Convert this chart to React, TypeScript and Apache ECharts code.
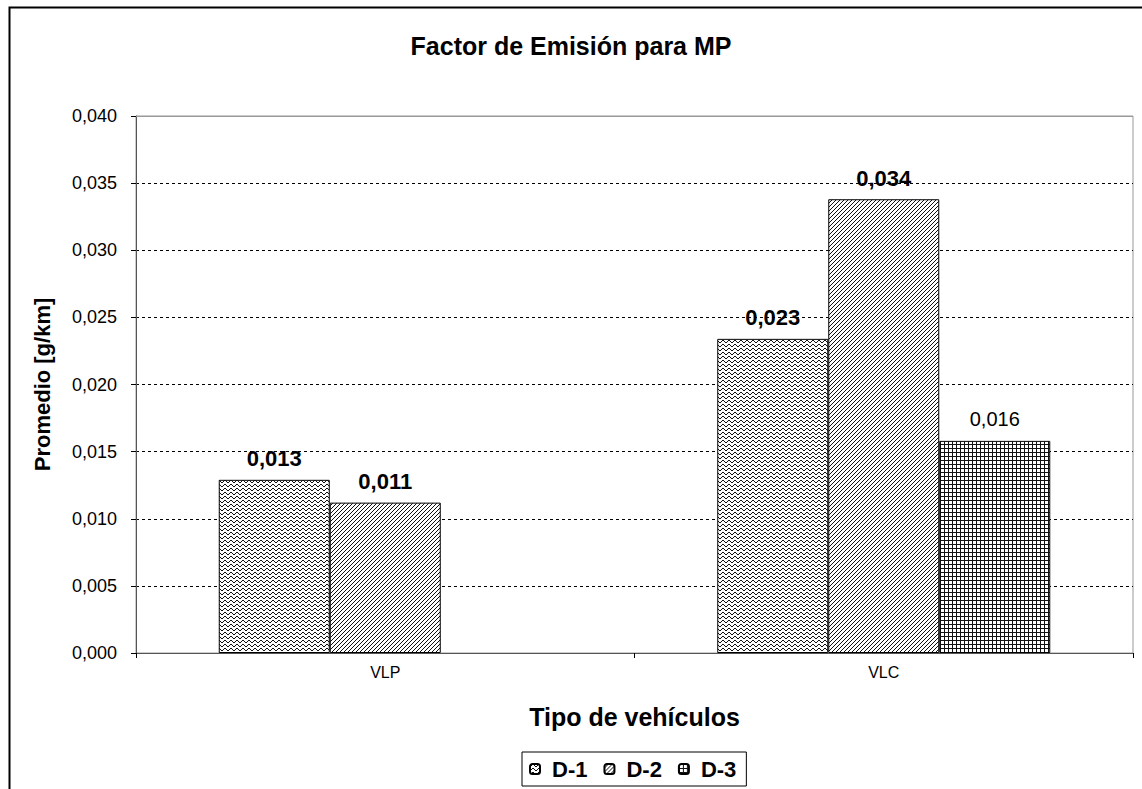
import React, { useEffect, useRef } from "react";
import * as echarts from "echarts";

const categories = ["VLP", "VLC"];
const seriesNames = ["D-1", "D-2", "D-3"];
const d1Values = [0.0129, 0.0234];
const d2Values = [0.0112, 0.0338];
const d3Values: (number | null)[] = [null, 0.0158];

const FONT = "'Liberation Sans', Arial, sans-serif";

function makePattern(w: number, h: number, pixels: (ctx: CanvasRenderingContext2D) => void) {
  const c = document.createElement("canvas");
  c.width = w;
  c.height = h;
  const ctx = c.getContext("2d")!;
  ctx.fillStyle = "#fff";
  ctx.fillRect(0, 0, w, h);
  ctx.fillStyle = "#111";
  pixels(ctx);
  return c;
}

// wavy horizontal lines
function wavePattern() {
  const ys = [2, 1, 0, 0, 1, 2];
  return makePattern(6, 4, (ctx) => {
    ys.forEach((y, x) => ctx.fillRect(x, y, 1, 1));
  });
}

// diagonal hatching ///
function diagPattern() {
  return makePattern(4, 4, (ctx) => {
    for (let i = 0; i < 4; i++) ctx.fillRect(i, 3 - i, 1, 1);
  });
}

// small square grid
function gridPattern() {
  return makePattern(4, 4, (ctx) => {
    ctx.fillRect(0, 0, 4, 1);
    ctx.fillRect(0, 0, 1, 4);
  });
}

const fmt = (v: number) => v.toFixed(3).replace(".", ",");

export default function App() {
  const ref = useRef<HTMLDivElement>(null);

  useEffect(() => {
    document.body.style.margin = "0";
    const chart = echarts.init(ref.current!, null, { renderer: "svg" });
    const patterns = [wavePattern(), diagPattern(), gridPattern()];
    const dataSets = [d1Values, d2Values, d3Values];
    const labelBold = [true, true, false];

    const series: any[] = seriesNames.map((name, i) => ({
      name,
      type: "bar",
      data: dataSets[i],
      barWidth: 111,
      barGap: "0%",
      itemStyle: {
        color: { image: patterns[i], repeat: "repeat" },
        borderColor: "#000",
        borderWidth: 1,
      },
      label: {
        show: true,
        position: "top",
        distance: labelBold[i] ? 10 : 12,
        formatter: (p: any) => fmt(p.value),
        fontFamily: FONT,
        fontSize: labelBold[i] ? 22 : 20,
        fontWeight: labelBold[i] ? "bold" : "normal",
        color: "#000",
      },
      emphasis: { disabled: true },
    }));
    series[0].markLine = {
      silent: true,
      symbol: "none",
      label: { show: false },
      lineStyle: { color: "#999", type: "solid", width: 1 },
      data: [{ yAxis: 0.04 }],
    };

    chart.setOption({
      animation: false,
      backgroundColor: "#fff",
      title: {
        text: "Factor de Emisión para MP",
        left: "center",
        top: 28,
        textStyle: { fontFamily: FONT, fontSize: 25, fontWeight: "bold", color: "#000" },
      },
      legend: {
        bottom: 3,
        left: 522,
        data: seriesNames,
        itemWidth: 10,
        itemHeight: 10,
        itemGap: 16,
        padding: [6, 10, 6, 7],
        borderColor: "#000",
        borderWidth: 1,
        textStyle: {
          fontFamily: FONT,
          fontSize: 22,
          fontWeight: "bold",
          color: "#000",
          padding: [0, 0, 0, 7],
        },
      },
      grid: {
        left: 136,
        right: 9,
        top: 116,
        bottom: 136,
        show: true,
        borderColor: "#999",
        borderWidth: 1,
      },
      xAxis: {
        type: "category",
        data: categories,
        name: "Tipo de vehículos",
        nameLocation: "middle",
        nameGap: 51,
        nameTextStyle: { fontFamily: FONT, fontSize: 25, fontWeight: "bold", color: "#000" },
        axisLine: { lineStyle: { color: "#555", width: 1 } },
        axisTick: { show: true, length: 5, lineStyle: { color: "#000" } },
        axisLabel: { fontFamily: FONT, fontSize: 16, color: "#000", margin: 11 },
      },
      yAxis: {
        type: "value",
        min: 0,
        max: 0.04,
        interval: 0.005,
        name: "Promedio [g/km]",
        nameLocation: "middle",
        nameGap: 83,
        nameTextStyle: { fontFamily: FONT, fontSize: 22, fontWeight: "bold", color: "#000" },
        axisLine: { show: true, lineStyle: { color: "#555", width: 1 } },
        axisTick: { show: true, length: 5, lineStyle: { color: "#000" } },
        axisLabel: {
          fontFamily: FONT,
          fontSize: 18,
          color: "#000",
          margin: 19,
          formatter: (v: number) => fmt(v),
        },
        splitLine: { show: true, lineStyle: { color: "#000", type: [3, 3], width: 1 } },
      },
      graphic: [
        {
          type: "rect",
          left: 7,
          top: 5,
          silent: true,
          z: 100,
          shape: { width: 1200, height: 900 },
          style: { fill: "none", stroke: "#000", lineWidth: 2 },
        },
      ],
      series,
    });
    return () => chart.dispose();
  }, []);

  return <div ref={ref} style={{ width: 1142, height: 789 }} />;
}
